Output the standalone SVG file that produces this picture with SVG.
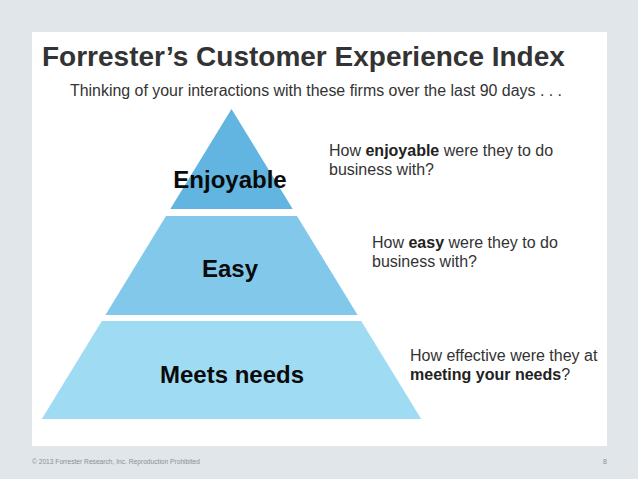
<svg xmlns="http://www.w3.org/2000/svg" width="638" height="479" viewBox="0 0 638 479">
<style>
text{font-family:"Liberation Sans",Arial,sans-serif}
.title{font-size:28px;font-weight:bold;fill:#333333}
.sub{font-size:16px;fill:#333333}
.lbl{font-size:24px;font-weight:bold;fill:#0a0a0a;text-anchor:middle}
.q{font-size:16px;fill:#333333}
.q tspan.b{font-weight:bold;fill:#222222}
.foot{font-size:7px;fill:#8a8f94}
</style>
<rect x="0" y="0" width="638" height="479" fill="#e1e6ea"/>
<rect x="32" y="32" width="575" height="414" fill="#ffffff"/>
<text class="title" x="42" y="66">Forrester’s Customer Experience Index</text>
<text class="sub" x="70" y="96" textLength="492" lengthAdjust="spacingAndGlyphs">Thinking of your interactions with these firms over the last 90 days . . .</text>
<g id="tier-enjoyable">
<polygon points="231.5,109 292.7,209 170.3,209" fill="#62b5e0"/>
<text class="lbl" x="230" y="188">Enjoyable</text>
</g>
<g id="tier-easy">
<polygon points="166,216 297,216 357.6,315 105.4,315" fill="#82c8ea"/>
<text class="lbl" x="230" y="277">Easy</text>
</g>
<g id="tier-meets">
<polygon points="101.8,321 361.2,321 421.2,419 41.8,419" fill="#a0dbf4"/>
<text class="lbl" x="232" y="383">Meets needs</text>
</g>
<g id="connectors"/>
<g id="q-enjoyable">
<text class="q" x="329" y="156">How <tspan class="b">enjoyable</tspan> were they to do</text>
<text class="q" x="329" y="175">business with?</text>
</g>
<g id="q-easy">
<text class="q" x="372" y="248">How <tspan class="b">easy</tspan> were they to do</text>
<text class="q" x="372" y="267">business with?</text>
</g>
<g id="q-meets">
<text class="q" x="410" y="361">How effective were they at</text>
<text class="q" x="410" y="380"><tspan class="b">meeting your needs</tspan>?</text>
</g>
<text class="foot" x="32" y="464" textLength="168" lengthAdjust="spacingAndGlyphs">© 2013 Forrester Research, Inc. Reproduction Prohibited</text>
<text class="foot" x="607" y="464" text-anchor="end">8</text>
</svg>
